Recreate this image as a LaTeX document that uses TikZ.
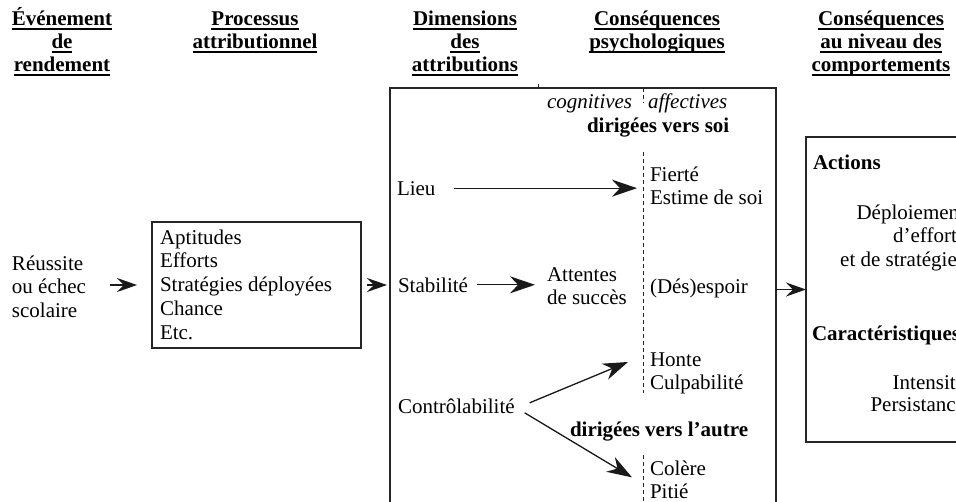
\documentclass[tikz,border=0pt]{standalone}
\usepackage{fontspec}
\setmainfont{Liberation Serif}
\usetikzlibrary{arrows.meta}
\newcommand{\mystrut}{\rule{0pt}{20pt}}
\newcommand{\hul}[1]{\setbox0\hbox{#1}\rlap{\rule[-5pt]{\wd0}{1.8pt}}\box0}
\tikzset{
  txt/.style={inner sep=0pt, outer sep=0pt, font=\fontsize{21}{23.5}\selectfont},
  hdr/.style={txt, font=\fontsize{21}{23}\selectfont\bfseries, align=center, anchor=north},
  lines/.style={txt, align=left, anchor=north west},
  rlines/.style={txt, align=right, anchor=north east},
  word/.style={txt, anchor=base west},
  bold/.style={font=\fontsize{21}{23.5}\selectfont\bfseries},
  ital/.style={font=\fontsize{21}{23.5}\selectfont\itshape},
  frame/.style={draw=black!85, line width=1.4pt, inner sep=0pt, outer sep=0pt, anchor=north west},
  arr/.style={draw=black!90, line width=1.3pt, -{Stealth[length=25pt,width=17pt,inset=8pt]}},
  sarr/.style={draw=black!90, line width=1.3pt, -{Stealth[length=20pt,width=14pt,inset=7pt]}},
  sep/.style={draw=black!85, line width=1pt, dash pattern=on 4pt off 3pt},
}
\begin{document}
\begin{tikzpicture}[x=1pt,y=-1pt]
\useasboundingbox (0,0) rectangle (956,501);
\fill[white] (0,0) rectangle (956,501);

% headers
\node[hdr] (h1) at (62,5) {\mystrut\hul{Événement}\\\hul{de}\\\hul{rendement}};
\node[hdr] (h2) at (255,5) {\mystrut\hul{Processus}\\\hul{attributionnel}};
\node[hdr] (h3) at (465,5) {\mystrut\hul{Dimensions}\\\hul{des}\\\hul{attributions}};
\node[hdr] (h4) at (657,5) {\mystrut\hul{Conséquences}\\\hul{psychologiques}};
\node[hdr] (h5) at (881,5) {\mystrut\hul{Conséquences}\\\hul{au niveau des}\\\hul{comportements}};

% left
\node[lines] (reussite) at (12,250) {\mystrut Réussite\\ou échec\\scolaire};
\node[frame, minimum width=209pt, minimum height=126pt] (proc) at (152,222) {};
\node[lines, font=\fontsize{21}{23.8}\selectfont] (proctxt) at (160,224) {\mystrut Aptitudes\\Efforts\\Stratégies déployées\\Chance\\Etc.};

% big box
\node[frame, minimum width=386pt, minimum height=470pt] (dims) at (390,88) {};
\draw[draw=black!85, line width=1pt] (538,84) -- (538,88);
\draw[sep] (643,88) -- (643,103);
\draw[sep] (643,152) -- (643,393);
\draw[sep] (643,455) -- (643,520);

\node[word, ital] (cogn) at (547,108) {cognitives};
\node[word, ital] (affe) at (648,108) {affectives};
\node[word, bold] (soi) at (587,132) {dirigées vers soi};
\node[word] (lieu) at (397,195) {Lieu};
\node[lines] (fierte) at (650,161) {\mystrut Fierté\\Estime de soi};
\node[word] (stab) at (398,292) {Stabilité};
\node[lines] (attentes) at (547,261) {\mystrut Attentes\\de succès};
\node[word] (espoir) at (650,293) {(Dés)espoir};
\node[lines] (honte) at (650,346) {\mystrut Honte\\Culpabilité};
\node[word] (contr) at (398,413) {Contrôlabilité};
\node[word, bold] (autre) at (570,436) {dirigées vers l’autre};
\node[lines] (colere) at (650,455) {\mystrut Colère\\Pitié};

% right box
\node[frame, minimum width=220pt, minimum height=305pt] (rbox) at (806,137) {};
\node[word, bold] (actions) at (813,169) {Actions};
\node[rlines] (deploi) at (965,199) {\mystrut Déploiement\\d’efforts\\et de stratégies};
\node[word, bold] (caract) at (812,340) {Caractéristiques};
\node[rlines, font=\fontsize{21}{22.5}\selectfont] (intens) at (965,369) {\mystrut Intensité\\Persistance};

% connectors
\draw[sarr, shorten <=24pt, shorten >=15pt] (reussite.east |- proc.west) -- (proc.west);
\draw[sarr, shorten <=6pt, shorten >=3pt] (proc.east) -- (proc.east -| dims.west);
\draw[sarr] (dims.east |- rbox.west) -- (rbox.west);
\draw[arr, shorten <=19pt, shorten >=13pt] (lieu.east) -- (lieu.east -| fierte.west);
\draw[arr, shorten <=9pt, shorten >=12pt] (stab.east) -- (stab.east -| attentes.west);
\draw[arr] ([shift={(15,-3)}]contr.east) -- ([shift={(-22,-8)}]honte.west);
\draw[arr] ([shift={(10,7)}]contr.east) -- ([shift={(-18,0.5)}]colere.west);
\end{tikzpicture}
\end{document}
